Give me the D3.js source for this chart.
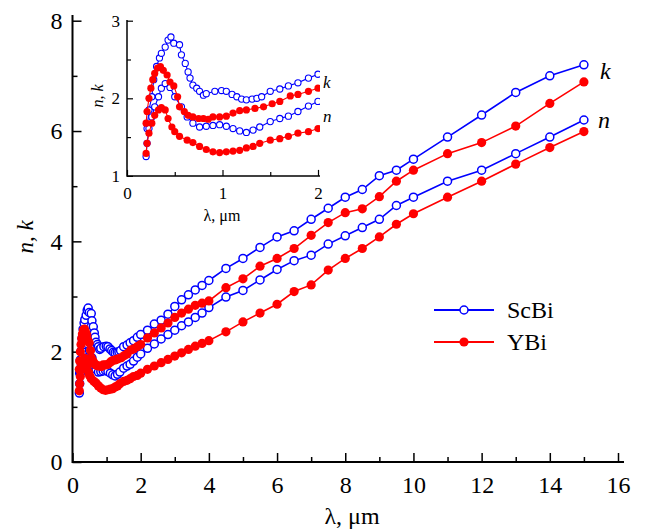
<!DOCTYPE html>
<html>
<head>
<meta charset="utf-8">
<script src="https://d3js.org/d3.v7.min.js"></script>
<style>
  body { margin: 0; background: #fff; }
  svg text { font-family: "Liberation Serif", "Times New Roman", serif; }
</style>
</head>
<body>
<svg id="chart" width="645" height="530"></svg>
<script>
// wavelength grid shared above 2 um
const tailLam = [2.2, 2.4, 2.6, 2.8, 3.0, 3.2, 3.4, 3.6, 3.8, 4.0,
                 4.5, 5.0, 5.5, 6.0, 6.5, 7.0, 7.5, 8.0, 8.5, 9.0, 9.5, 10,
                 11, 12, 13, 14, 15];

// ScBi, k
const scbiKLam = [0.21, 0.23, 0.26, 0.28, 0.31, 0.34, 0.36, 0.40, 0.43, 0.46,
                  0.49, 0.55, 0.57, 0.61, 0.64, 0.66, 0.69, 0.73, 0.76, 0.80,
                  0.83, 0.92, 0.99, 1.04, 1.10, 1.15, 1.20, 1.25, 1.31, 1.36,
                  1.41, 1.50, 1.60, 1.69, 1.79, 1.90, 2.0];
const scbiK = [1.61, 1.85, 2.02, 2.24, 2.41, 2.52, 2.58, 2.66, 2.75, 2.79,
               2.71, 2.69, 2.56, 2.45, 2.34, 2.26, 2.17, 2.13, 2.09, 2.04,
               2.06, 2.09, 2.10, 2.09, 2.05, 2.02, 1.99, 1.98, 1.99, 2.00,
               2.02, 2.09, 2.12, 2.16, 2.20, 2.26, 2.31,
               2.39, 2.50, 2.57, 2.68, 2.82, 2.94, 3.03, 3.12, 3.20, 3.29,
               3.51, 3.69, 3.89, 4.08, 4.19, 4.40, 4.60, 4.80, 4.94, 5.19, 5.29, 5.49,
               5.89, 6.29, 6.70, 7.00, 7.20];

// ScBi, n
const scbiNLam = [0.20, 0.21, 0.23, 0.26, 0.29, 0.33, 0.36, 0.40, 0.45, 0.50,
                  0.57, 0.63, 0.69, 0.76, 0.83, 0.90, 0.97, 1.04, 1.11, 1.18,
                  1.25, 1.32, 1.39, 1.50, 1.60, 1.69, 1.79, 1.90, 2.0];
const scbiN = [1.25, 1.42, 1.61, 1.76, 1.89, 2.02, 2.13, 2.19, 2.14, 2.02,
               1.89, 1.76, 1.68, 1.63, 1.64, 1.65, 1.66, 1.64, 1.61, 1.58,
               1.56, 1.59, 1.63, 1.70, 1.74, 1.77, 1.83, 1.90, 1.96,
               2.06, 2.14, 2.23, 2.31, 2.39, 2.47, 2.54, 2.62, 2.70, 2.80,
               2.99, 3.11, 3.30, 3.49, 3.65, 3.75, 3.95, 4.10, 4.25, 4.40, 4.65, 4.80,
               5.09, 5.29, 5.59, 5.89, 6.20];

// YBi, k
const ybiKLam = [0.20, 0.21, 0.23, 0.25, 0.27, 0.29, 0.32, 0.35, 0.38, 0.42,
                 0.45, 0.49, 0.53, 0.55, 0.60, 0.64, 0.69, 0.75, 0.80, 0.85,
                 0.90, 0.97, 1.04, 1.11, 1.18, 1.25, 1.34, 1.43, 1.52, 1.60,
                 1.71, 1.79, 1.90, 2.0];
const ybiK = [1.68, 1.83, 2.00, 2.13, 2.24, 2.32, 2.39, 2.41, 2.36, 2.30,
              2.21, 2.16, 2.02, 1.89, 1.83, 1.78, 1.76, 1.74, 1.74, 1.73,
              1.76, 1.76, 1.77, 1.81, 1.84, 1.85, 1.87, 1.89, 1.93, 1.96,
              2.03, 2.05, 2.09, 2.13,
              2.25, 2.34, 2.43, 2.52, 2.62, 2.70, 2.77, 2.84, 2.88, 2.92,
              3.16, 3.32, 3.55, 3.69, 3.87, 4.11, 4.34, 4.52, 4.59, 4.81, 5.09, 5.29,
              5.59, 5.79, 6.09, 6.50, 6.89];

// YBi, n
const ybiNLam = [0.20, 0.21, 0.23, 0.26, 0.29, 0.33, 0.36, 0.40, 0.43, 0.47,
                 0.50, 0.55, 0.63, 0.69, 0.76, 0.83, 0.90, 0.97, 1.04, 1.11,
                 1.18, 1.25, 1.32, 1.39, 1.50, 1.60, 1.69, 1.79, 1.90, 2.0];
const ybiN = [1.29, 1.42, 1.55, 1.68, 1.78, 1.85, 1.88, 1.85, 1.74, 1.63,
              1.57, 1.51, 1.46, 1.43, 1.38, 1.34, 1.31, 1.30, 1.31, 1.32,
              1.33, 1.36, 1.38, 1.42, 1.46, 1.48, 1.51, 1.55, 1.57, 1.61,
              1.68, 1.74, 1.80, 1.86, 1.92, 1.98, 2.04, 2.10, 2.15, 2.20,
              2.36, 2.54, 2.70, 2.86, 3.09, 3.21, 3.48, 3.69, 3.87, 4.08, 4.31, 4.50,
              4.80, 5.09, 5.40, 5.70, 5.99];

const xMajor = [0, 2, 4, 6, 8, 10, 12, 14, 16];
const xMinor = [1, 3, 5, 7, 9, 11, 13, 15];
const yMajor = [0, 2, 4, 6, 8];
const yMinor = [1, 3, 5, 7];
const insetXMajor = [0, 1, 2];
const insetXMinor = [0.5, 1.5];
const insetYMajor = [1, 2, 3];
const insetYMinor = [1.5, 2.5];

const zip = (lam, v) => v.map((d, i) => ({ x: i < lam.length ? lam[i] : tailLam[i - lam.length], y: d }));

const series = [
  { name: "ScBi", color: "#0000ff", open: true, pts: [zip(scbiKLam, scbiK), zip(scbiNLam, scbiN)] },
  { name: "YBi", color: "#ff0000", open: false, pts: [zip(ybiKLam, ybiK), zip(ybiNLam, ybiN)] }
];

const svg = d3.select("#chart");
const fmt = d3.format("d");
const serif = '"Liberation Serif", "Times New Roman", serif';

// ---------- main plot
const x = d3.scaleLinear().domain([0, 16]).range([72.5, 618]);
const y = d3.scaleLinear().domain([0, 8]).range([462, 20.7]);

function drawAxes(g, xs, ys, o) {
  const xa = g.append("g").attr("transform", `translate(0,${ys.range()[0]})`)
    .call(d3.axisBottom(xs).tickValues(o.xMajor).tickSize(-o.major).tickSizeOuter(0).tickPadding(o.xPad).tickFormat(fmt));
  const xm = g.append("g").attr("transform", `translate(0,${ys.range()[0]})`)
    .call(d3.axisBottom(xs).tickValues(o.xMinor).tickSize(-o.minor).tickSizeOuter(0).tickFormat(""));
  const ya = g.append("g").attr("transform", `translate(${xs.range()[0]},0)`)
    .call(d3.axisLeft(ys).tickValues(o.yMajor).tickSize(-o.major).tickSizeOuter(0).tickPadding(o.yPad).tickFormat(fmt));
  const ym = g.append("g").attr("transform", `translate(${xs.range()[0]},0)`)
    .call(d3.axisLeft(ys).tickValues(o.yMinor).tickSize(-o.minor).tickSizeOuter(0).tickFormat(""));
  [xa, xm, ya, ym].forEach(a => {
    a.attr("font-family", null).attr("font-size", null);
    a.select(".domain").remove();
    a.selectAll("line").attr("stroke", "#000").attr("stroke-width", o.tickW);
    a.selectAll("text").attr("fill", "#000").style("font-family", serif).style("font-size", o.font + "px");
  });
  g.append("line").attr("x1", xs.range()[0]).attr("x2", o.xEnd)
    .attr("y1", ys.range()[0]).attr("y2", ys.range()[0])
    .attr("stroke", "#000").attr("stroke-width", o.axisW);
  g.append("line").attr("x1", xs.range()[0]).attr("x2", xs.range()[0])
    .attr("y1", ys.range()[0] + o.axisW / 2).attr("y2", o.yEnd)
    .attr("stroke", "#000").attr("stroke-width", o.axisW);
}

function drawSeries(g, xs, ys, o) {
  const line = d3.line().x(d => xs(d.x)).y(d => ys(d.y));
  series.forEach(s => {
    s.pts.forEach(p => {
      const data = p.filter(d => d.x <= o.maxX);
      g.append("path").datum(data).attr("d", line)
        .attr("fill", "none").attr("stroke", s.color).attr("stroke-width", o.lineW);
      g.selectAll(null).data(data.filter(d => d.x <= o.markX)).enter().append("circle")
        .attr("cx", d => xs(d.x)).attr("cy", d => ys(d.y))
        .attr("r", s.open ? o.rOpen : o.rFill)
        .attr("fill", s.open ? "#fff" : s.color)
        .attr("stroke", s.open ? s.color : "none")
        .attr("stroke-width", o.markW);
    });
  });
}

function label(g, txt, size, italic) {
  return g.append("text").style("font-family", serif).style("font-size", size + "px")
    .style("font-style", italic ? "italic" : "normal").text(txt);
}

const main = svg.append("g");
drawAxes(main, x, y, {
  xMajor, xMinor, yMajor, yMinor, major: 9, minor: 5, xPad: 14, yPad: 10,
  tickW: 1.5, axisW: 2, font: 24, xEnd: 624, yEnd: 15
});
drawSeries(main, x, y, { maxX: 16, markX: 16, lineW: 1.6, rOpen: 4, rFill: 4.6, markW: 1.5 });

label(main, "λ, μm", 24).attr("x", 352).attr("y", 524).attr("text-anchor", "middle");
label(main, "n, k", 23, true).attr("transform", "translate(33,237) rotate(-90)").attr("text-anchor", "middle");
label(main, "k", 24, true).attr("x", 600).attr("y", 79);
label(main, "n", 24, true).attr("x", 598).attr("y", 128);

// legend
const legend = main.append("g");
series.forEach((s, i) => {
  const ly = 310 + i * 32;
  legend.append("line").attr("x1", 434).attr("x2", 494).attr("y1", ly).attr("y2", ly)
    .attr("stroke", s.color).attr("stroke-width", 2);
  legend.append("circle").attr("cx", 464).attr("cy", ly).attr("r", s.open ? 4 : 4.6)
    .attr("fill", s.open ? "#fff" : s.color).attr("stroke", s.open ? s.color : "none").attr("stroke-width", 1.5);
  label(legend, s.name, 24).attr("x", 507).attr("y", ly + 8);
});

// ---------- inset
const ix = d3.scaleLinear().domain([0, 2]).range([127, 318]);
const iy = d3.scaleLinear().domain([1, 3]).range([175.9, 20.7]);
const inset = svg.append("g");
svg.append("defs").append("clipPath").attr("id", "insetClip")
  .append("rect").attr("x", 127).attr("y", 10).attr("width", 193).attr("height", 166);
const insetData = inset.append("g").attr("clip-path", "url(#insetClip)");
drawSeries(insetData, ix, iy, { maxX: 2.2, markX: 2.0, lineW: 1.1, rOpen: 3.1, rFill: 3.6, markW: 1.1 });
drawAxes(inset, ix, iy, {
  xMajor: insetXMajor, xMinor: insetXMinor, yMajor: insetYMajor, yMinor: insetYMinor,
  major: 6, minor: 4, xPad: 11, yPad: 7, tickW: 1.2, axisW: 1.5, font: 17, xEnd: 320, yEnd: 20
});
label(inset, "λ, μm", 16).attr("x", 222).attr("y", 221).attr("text-anchor", "middle");
label(inset, "n, k", 16, true).attr("transform", "translate(103,96) rotate(-90)").attr("text-anchor", "middle");
label(inset, "k", 17, true).attr("x", 323).attr("y", 88);
label(inset, "n", 17, true).attr("x", 323).attr("y", 122);
</script>
</body>
</html>
